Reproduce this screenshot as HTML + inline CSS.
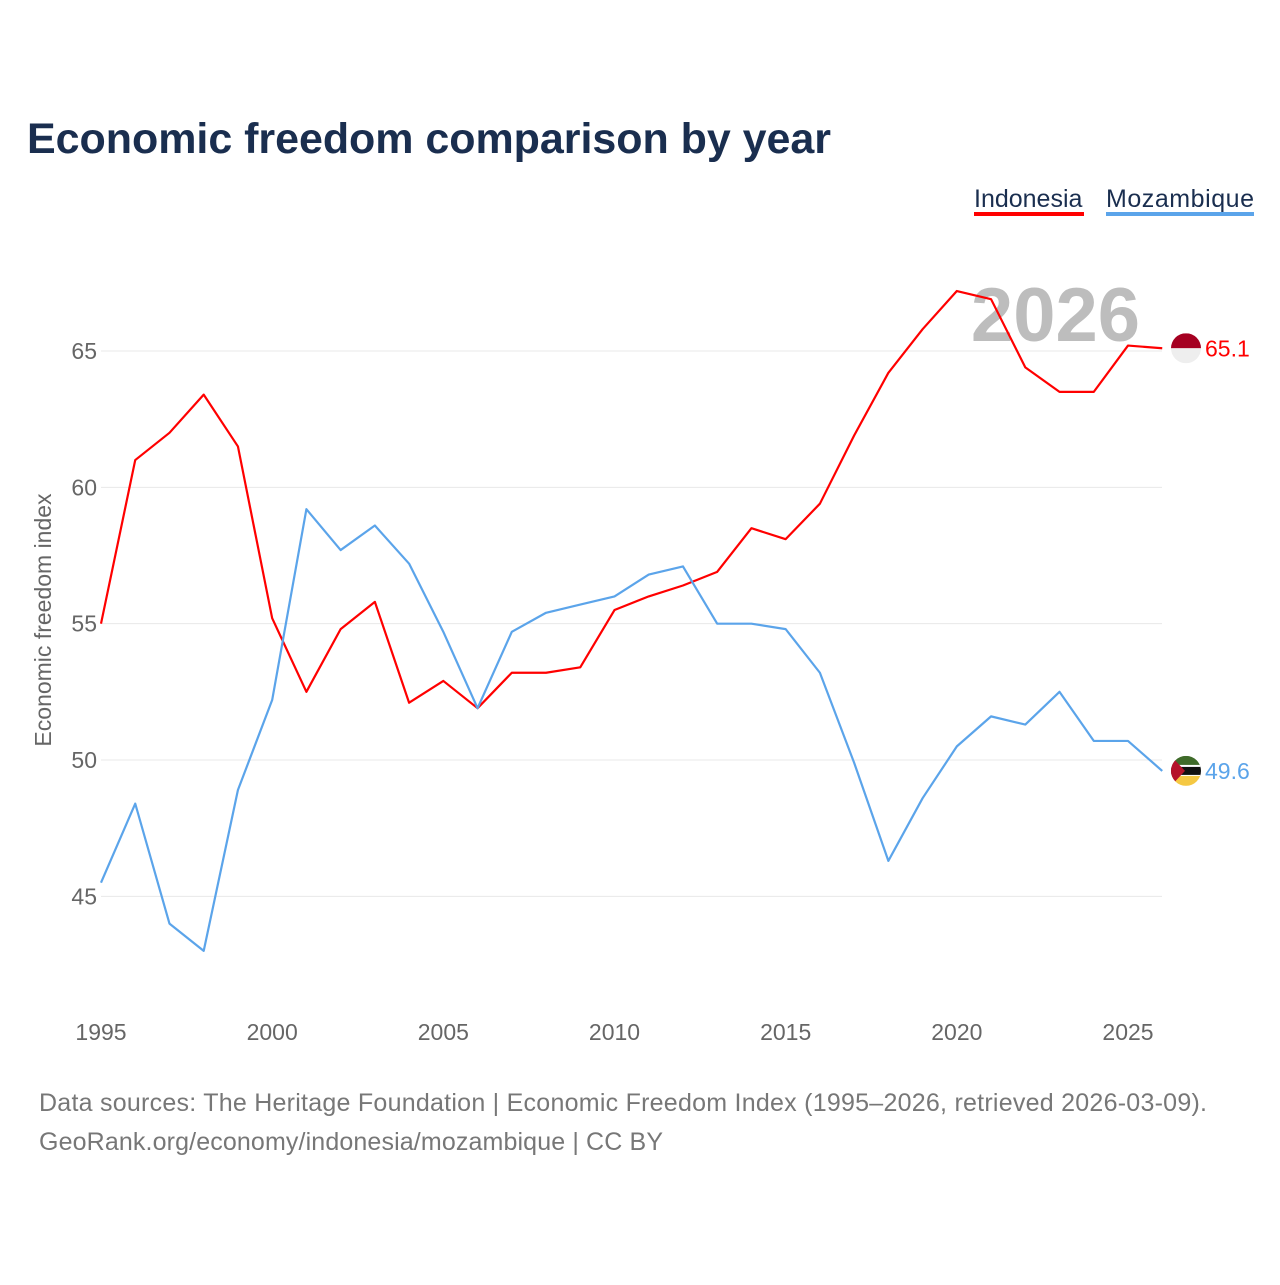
<!DOCTYPE html>
<html><head><meta charset="utf-8"><style>
body{margin:0;background:#fff;font-family:"Liberation Sans",sans-serif}
</style></head><body>
<svg id="chart" width="1280" height="1280" xmlns="http://www.w3.org/2000/svg" font-family="Liberation Sans, sans-serif">
<rect width="1280" height="1280" fill="#fff"/>
<text x="27" y="153" font-size="43" font-weight="bold" fill="#1a2e4f" textLength="804">Economic freedom comparison by year</text>
<g>
<text x="974" y="207" font-size="25" fill="#1a2e4f">Indonesia</text>
<rect x="974" y="212" width="110" height="4" fill="#ff0000"/></g>
<g>
<text x="1106" y="207" font-size="25" fill="#1a2e4f" textLength="148">Mozambique</text>
<rect x="1106" y="212" width="148" height="4" fill="#5ba4ea"/></g>
<text x="1140" y="341" text-anchor="end" font-size="76" font-weight="bold" fill="#bdbdbd">2026</text>
<g id="grid"></g><g id="xaxis"></g><g id="lines"></g>
<text transform="translate(51,620) rotate(-90)" text-anchor="middle" font-size="23" fill="#666">Economic freedom index</text>
<text x="39" y="1111" font-size="25" fill="#777" textLength="1168">Data sources: The Heritage Foundation | Economic Freedom Index (1995–2026, retrieved 2026-03-09).</text>
<text x="39" y="1150" font-size="25" fill="#777" textLength="624">GeoRank.org/economy/indonesia/mozambique | CC BY</text>
</svg>
<script>
const years=[1995,1996,1997,1998,1999,2000,2001,2002,2003,2004,2005,2006,2007,2008,2009,2010,2011,2012,2013,2014,2015,2016,2017,2018,2019,2020,2021,2022,2023,2024,2025,2026];
const indonesia=[55.0,61.0,62.0,63.4,61.5,55.2,52.5,54.8,55.8,52.1,52.9,51.9,53.2,53.2,53.4,55.5,56.0,56.4,56.9,58.5,58.1,59.4,61.9,64.2,65.8,67.2,66.9,64.4,63.5,63.5,65.2,65.1];
const mozambique=[45.5,48.4,44.0,43.0,48.9,52.2,59.2,57.7,58.6,57.2,54.7,51.9,54.7,55.4,55.7,56.0,56.8,57.1,55.0,55.0,54.8,53.2,49.9,46.3,48.6,50.5,51.6,51.3,52.5,50.7,50.7,49.6];
const yTicks=[45,50,55,60,65];
const xTicks=[1995,2000,2005,2010,2015,2020,2025];
const NS="http://www.w3.org/2000/svg";
const X=v=>101+(v-1995)*(1128-101)/30;
const Y=v=>351+(65-v)*(760-351)/15;
function mk(t,a,p){const e=document.createElementNS(NS,t);for(const k in a)e.setAttribute(k,a[k]);p.appendChild(e);return e;}
const grid=document.getElementById('grid');
yTicks.forEach(v=>{
 const l=mk('line',{x1:101,x2:1162,y1:Y(v),y2:Y(v),stroke:'#e8e8e8','stroke-width':1},grid);
 
 
 const t=mk('text',{x:97,y:Y(v)+8,'text-anchor':'end','font-size':23,fill:'#666'},grid);
 t.textContent=v;
 
 
});
const xa=document.getElementById('xaxis');
xTicks.forEach(v=>{
 const t=mk('text',{x:X(v),y:1040,'text-anchor':'middle','font-size':23,fill:'#666'},xa);
 t.textContent=v;
 
 
});
const lines=document.getElementById('lines');
function series(vals,color,name,flag){
 const p=mk('polyline',{points:vals.map((v,i)=>X(years[i])+','+Y(v)).join(' '),fill:'none',stroke:color,'stroke-width':2.2,'stroke-linejoin':'round'},lines);
 
 
 const last=vals[vals.length-1],cy=Y(last),cx=1186;
 const g=mk('g',{},lines);
 
 
 const cp=mk('clipPath',{id:'c'+name},g);mk('circle',{cx:cx,cy:cy,r:15},cp);
 const gg=mk('g',{'clip-path':'url(#c'+name+')'},g);
 flag(gg,cx,cy);
 const t=mk('text',{x:1205,y:cy+8,'font-size':23,fill:color},lines);
 t.textContent=last.toFixed(1);
 
 
}
series(indonesia,'#ff0000','indonesia',(g,cx,cy)=>{
 mk('rect',{x:cx-15,y:cy-15,width:30,height:15,fill:'#a50021'},g);
 mk('rect',{x:cx-15,y:cy,width:30,height:15,fill:'#eee'},g);
});
series(mozambique,'#5ba4ea','mozambique',(g,cx,cy)=>{
 mk('rect',{x:cx-15,y:cy-15,width:30,height:10,fill:'#3f6b2a'},g);
 mk('rect',{x:cx-15,y:cy-5,width:30,height:10,fill:'#111'},g);
 mk('rect',{x:cx-15,y:cy-6,width:30,height:2,fill:'#fff'},g);
 mk('rect',{x:cx-15,y:cy+4,width:30,height:2,fill:'#fff'},g);
 mk('rect',{x:cx-15,y:cy+5,width:30,height:10,fill:'#f5c842'},g);
 mk('polygon',{points:(cx-15)+','+(cy-15)+' '+(cx-1)+','+cy+' '+(cx-15)+','+(cy+15),fill:'#b5122a'},g);
});
</script>
</body></html>
